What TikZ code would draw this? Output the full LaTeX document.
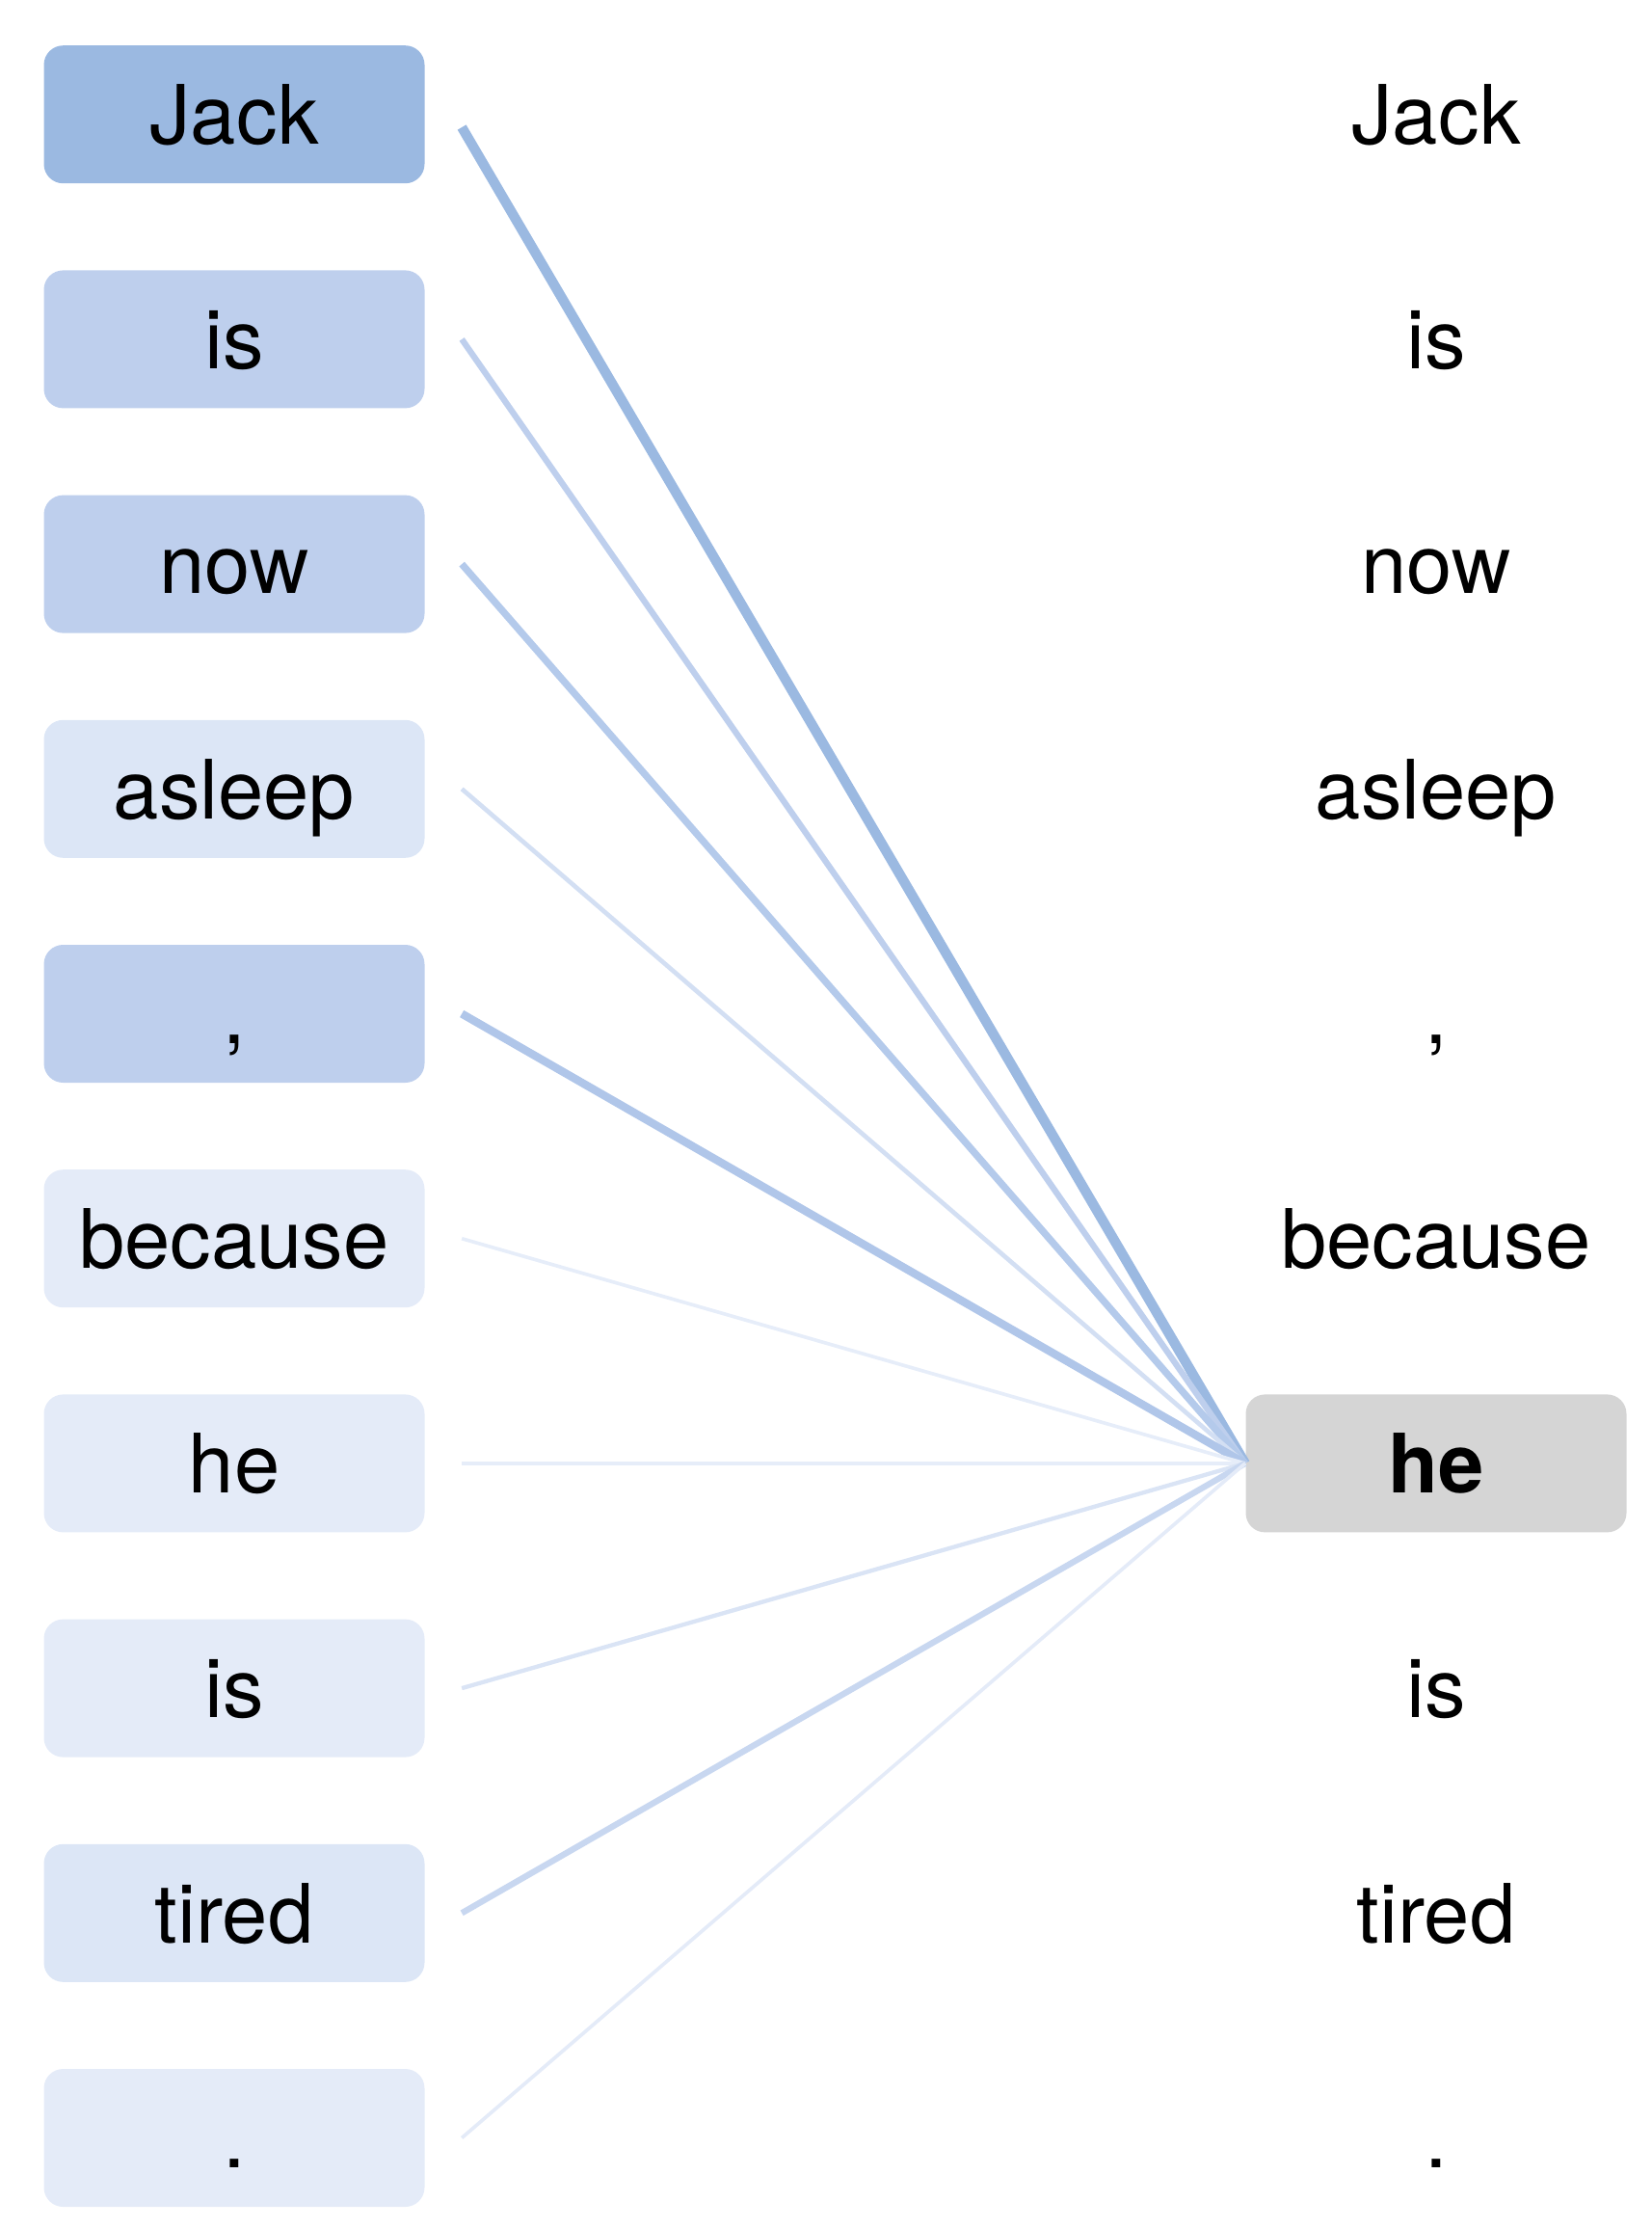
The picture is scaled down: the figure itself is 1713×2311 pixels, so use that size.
\documentclass[tikz,border=0pt]{standalone}
\usepackage{fontspec}
\setmainfont{TeX Gyre Heros}
\usepackage{xcolor}
\definecolor{attdark}{RGB}{155,185,225}
\definecolor{attmid}{RGB}{190,207,237}
\definecolor{attlight}{RGB}{220,230,246}
\definecolor{attfaint}{RGB}{228,235,248}
\definecolor{querygray}{RGB}{213,213,213}
\definecolor{lineA}{RGB}{155,185,225}
\definecolor{lineB}{RGB}{190,207,237}
\definecolor{lineC}{RGB}{180,202,235}
\definecolor{lineD}{RGB}{211,223,243}
\definecolor{lineE}{RGB}{176,198,233}
\definecolor{lineF}{RGB}{230,237,249}
\definecolor{lineG}{RGB}{218,228,245}
\definecolor{lineH}{RGB}{200,215,240}
\definecolor{lineI}{RGB}{228,235,248}
\usepackage{tikz}
\newcommand{\widthword}{118.5pt}
\newcommand{\heightword}{42.9pt}
\newcommand{\gapline}{11.4pt}
\tikzset{
    word/.style={rectangle, rounded corners=6pt, minimum width=\widthword, minimum height=\heightword,
        inner sep=0pt, text height=18.5pt, text depth=0pt, font=\fontsize{25.5}{30}\selectfont},
    key/.style={word, fill=#1},
    query/.style={word, fill=querygray},
    att/.style={draw=#1, line cap=butt}
}
\begin{document}
\begin{tikzpicture}[x=0.3pt, y=-0.3pt]
    \useasboundingbox (0,0) rectangle (1713,2311);
    % left column: keys coloured by weight
    \node[key=attdark]  (k1)  at (243,118.7)  {Jack};
    \node[key=attmid]   (k2)  at (243,351.9)  {is};
    \node[key=attmid]   (k3)  at (243,585.1)  {now};
    \node[key=attlight] (k4)  at (243,818.3)  {asleep};
    \node[key=attmid]   (k5)  at (243,1051.5) {,};
    \node[key=attfaint] (k6)  at (243,1284.7) {because};
    \node[key=attfaint] (k7)  at (243,1517.9) {he};
    \node[key=attfaint] (k8)  at (243,1751.1) {is};
    \node[key=attlight] (k9)  at (243,1984.3) {tired};
    \node[key=attfaint] (k10) at (243,2217.5) {.};
    % right column: queries
    \node[word] (q1)  at (1490,118.7)  {Jack};
    \node[word] (q2)  at (1490,351.9)  {is};
    \node[word] (q3)  at (1490,585.1)  {now};
    \node[word] (q4)  at (1490,818.3)  {asleep};
    \node[word] (q5)  at (1490,1051.5) {,};
    \node[word] (q6)  at (1490,1284.7) {because};
    \node[query] (q7) at (1490,1517.9) {\textbf{he}};
    \node[word] (q8)  at (1490,1751.1) {is};
    \node[word] (q9)  at (1490,1984.3) {tired};
    \node[word] (q10) at (1490,2217.5) {.};

    \foreach \i in {1,...,10}
        \coordinate (s\i) at ([xshift=\gapline]k\i.east);

    \draw[att=lineA, line width=3.1pt] ([yshift=-4pt]s1) -- (q7.west);
    \draw[att=lineB, line width=1.9pt] (s2) -- (q7.west);
    \draw[att=lineC, line width=2.2pt] (s3) -- (q7.west);
    \draw[att=lineD, line width=1.4pt] (s4) -- (q7.west);
    \draw[att=lineE, line width=2.5pt] (s5) -- (q7.west);
    \draw[att=lineF, line width=1.1pt] (s6) -- (q7.west);
    \draw[att=lineF, line width=1.1pt] (s7) -- (q7.west);
    \draw[att=lineG, line width=1.3pt] (s8) -- (q7.west);
    \draw[att=lineH, line width=1.9pt] (s9) -- (q7.west);
    \draw[att=lineI, line width=1.1pt] (s10) -- (q7.west);
\end{tikzpicture}
\end{document}
